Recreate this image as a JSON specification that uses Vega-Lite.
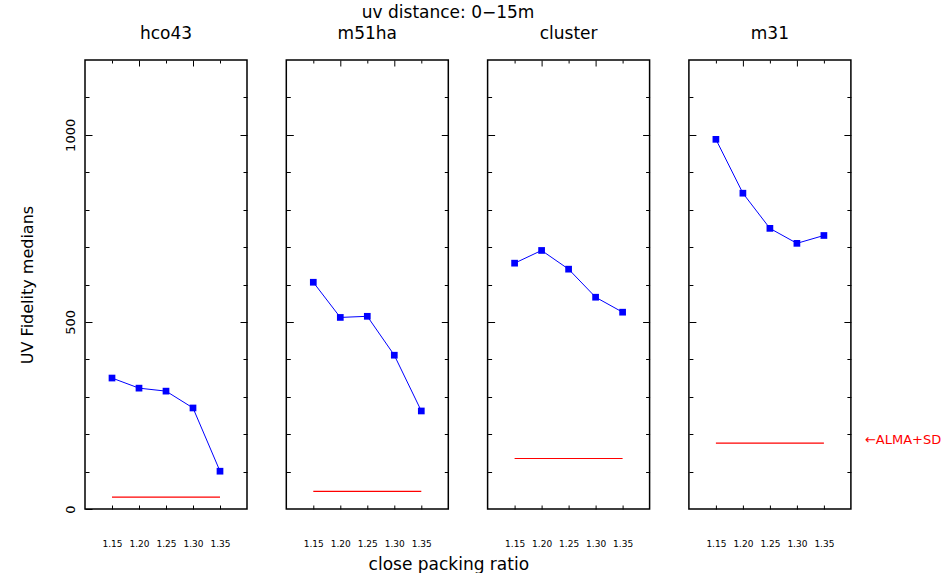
{
  "$schema": "https://vega.github.io/schema/vega-lite/v6.json",
  "padding": {"left": 18, "top": 3, "right": 0, "bottom": 0},
  "title": {"text": "uv distance: 0\u221215m", "fontSize": 17, "fontWeight": "normal", "anchor": "middle", "offset": 2, "dx": -32},
  "datasets": {
    "pts": [
      {"panel": "hco43", "ratio": 1.15, "fidelity": 350, "alma": 32},
      {"panel": "hco43", "ratio": 1.20, "fidelity": 323, "alma": 32},
      {"panel": "hco43", "ratio": 1.25, "fidelity": 315, "alma": 32},
      {"panel": "hco43", "ratio": 1.30, "fidelity": 270, "alma": 32},
      {"panel": "hco43", "ratio": 1.35, "fidelity": 101, "alma": 32},
      {"panel": "m51ha", "ratio": 1.15, "fidelity": 606, "alma": 47},
      {"panel": "m51ha", "ratio": 1.20, "fidelity": 512, "alma": 47},
      {"panel": "m51ha", "ratio": 1.25, "fidelity": 515, "alma": 47},
      {"panel": "m51ha", "ratio": 1.30, "fidelity": 411, "alma": 47},
      {"panel": "m51ha", "ratio": 1.35, "fidelity": 262, "alma": 47},
      {"panel": "cluster", "ratio": 1.15, "fidelity": 657, "alma": 135},
      {"panel": "cluster", "ratio": 1.20, "fidelity": 691, "alma": 135},
      {"panel": "cluster", "ratio": 1.25, "fidelity": 641, "alma": 135},
      {"panel": "cluster", "ratio": 1.30, "fidelity": 566, "alma": 135},
      {"panel": "cluster", "ratio": 1.35, "fidelity": 526, "alma": 135},
      {"panel": "m31", "ratio": 1.15, "fidelity": 988, "alma": 176},
      {"panel": "m31", "ratio": 1.20, "fidelity": 844, "alma": 176},
      {"panel": "m31", "ratio": 1.25, "fidelity": 750, "alma": 176},
      {"panel": "m31", "ratio": 1.30, "fidelity": 710, "alma": 176},
      {"panel": "m31", "ratio": 1.35, "fidelity": 731, "alma": 176}
    ]
  },
  "data": {"name": "pts"},
  "spacing": 39.3,
  "bounds": "flush",
  "hconcat": [
    {
      "width": 162, "height": 449,
      "title": {"text": "hco43", "offset": 17},
      "transform": [{"filter": "datum.panel === 'hco43'"}],
      "layer": [
        {"mark": {"type": "line", "color": "#0000ff", "strokeWidth": 1},
         "encoding": {
           "x": {"field": "ratio", "type": "quantitative", "scale": {"domain": [1.1, 1.4]},
                 "axis": {"orient": "bottom", "values": [1.15, 1.2, 1.25, 1.3, 1.35], "format": ".2f", "tickSize": -4, "labelPadding": 34, "labelFontSize": 9, "title": null}},
           "y": {"field": "fidelity", "type": "quantitative", "scale": {"domain": [0, 1200]},
                 "axis": {"orient": "left", "values": [0, 100, 200, 300, 400, 500, 600, 700, 800, 900, 1000, 1100], "format": "d", "tickSize": {"condition": {"test": "datum.value % 500 === 0", "value": -7}, "value": -4}, "labelExpr": "datum.value % 500 === 0 ? datum.label : ''", "labelAngle": -90, "labelFontSize": 13, "labelPadding": 15, "title": "UV Fidelity medians", "titleFontSize": 16, "titlePadding": 29}}
         }},
        {"mark": {"type": "square", "color": "#0000ff", "opacity": 1, "size": 45},
         "encoding": {
           "x": {"field": "ratio", "type": "quantitative", "axis": {"orient": "top", "values": [1.15, 1.2, 1.25, 1.3, 1.35], "labels": false, "tickSize": {"condition": {"test": "abs(datum.value*10 - round(datum.value*10)) < 0.01", "value": -6}, "value": -3}, "title": null}},
           "y": {"field": "fidelity", "type": "quantitative", "axis": {"orient": "right", "values": [100, 200, 300, 400, 500, 600, 700, 800, 900, 1000, 1100], "labels": false, "tickSize": {"condition": {"test": "datum.value % 500 === 0", "value": -7}, "value": -4}, "title": null}}
         }},
        {"mark": {"type": "line", "color": "#ff0000", "strokeWidth": 1.2},
         "encoding": {"x": {"field": "ratio", "type": "quantitative", "axis": null}, "y": {"field": "alma", "type": "quantitative", "axis": null}}}
      ],
      "resolve": {"axis": {"x": "independent", "y": "independent"}}
    },
    {
      "width": 162, "height": 449,
      "title": {"text": "m51ha", "offset": 17},
      "transform": [{"filter": "datum.panel === 'm51ha'"}],
      "layer": [
        {"mark": {"type": "line", "color": "#0000ff", "strokeWidth": 1},
         "encoding": {
           "x": {"field": "ratio", "type": "quantitative", "scale": {"domain": [1.1, 1.4]},
                 "axis": {"orient": "bottom", "values": [1.15, 1.2, 1.25, 1.3, 1.35], "format": ".2f", "tickSize": -4, "labelPadding": 34, "labelFontSize": 9, "title": "close packing ratio", "titleFontSize": 17, "titleX": 162, "titleY": 55, "titleBaseline": "middle", "titleAlign": "center"}},
           "y": {"field": "fidelity", "type": "quantitative", "scale": {"domain": [0, 1200]},
                 "axis": {"orient": "left", "values": [100, 200, 300, 400, 500, 600, 700, 800, 900, 1000, 1100], "tickSize": {"condition": {"test": "datum.value % 500 === 0", "value": -7}, "value": -4}, "labels": false, "title": null}}
         }},
        {"mark": {"type": "square", "color": "#0000ff", "opacity": 1, "size": 45},
         "encoding": {
           "x": {"field": "ratio", "type": "quantitative", "axis": {"orient": "top", "values": [1.15, 1.2, 1.25, 1.3, 1.35], "labels": false, "tickSize": {"condition": {"test": "abs(datum.value*10 - round(datum.value*10)) < 0.01", "value": -6}, "value": -3}, "title": null}},
           "y": {"field": "fidelity", "type": "quantitative", "axis": {"orient": "right", "values": [100, 200, 300, 400, 500, 600, 700, 800, 900, 1000, 1100], "labels": false, "tickSize": {"condition": {"test": "datum.value % 500 === 0", "value": -7}, "value": -4}, "title": null}}
         }},
        {"mark": {"type": "line", "color": "#ff0000", "strokeWidth": 1.2},
         "encoding": {"x": {"field": "ratio", "type": "quantitative", "axis": null}, "y": {"field": "alma", "type": "quantitative", "axis": null}}}
      ],
      "resolve": {"axis": {"x": "independent", "y": "independent"}}
    },
    {
      "width": 162, "height": 449,
      "title": {"text": "cluster", "offset": 17},
      "transform": [{"filter": "datum.panel === 'cluster'"}],
      "layer": [
        {"mark": {"type": "line", "color": "#0000ff", "strokeWidth": 1},
         "encoding": {
           "x": {"field": "ratio", "type": "quantitative", "scale": {"domain": [1.1, 1.4]},
                 "axis": {"orient": "bottom", "values": [1.15, 1.2, 1.25, 1.3, 1.35], "format": ".2f", "tickSize": -4, "labelPadding": 34, "labelFontSize": 9, "title": null}},
           "y": {"field": "fidelity", "type": "quantitative", "scale": {"domain": [0, 1200]},
                 "axis": {"orient": "left", "values": [100, 200, 300, 400, 500, 600, 700, 800, 900, 1000, 1100], "tickSize": {"condition": {"test": "datum.value % 500 === 0", "value": -7}, "value": -4}, "labels": false, "title": null}}
         }},
        {"mark": {"type": "square", "color": "#0000ff", "opacity": 1, "size": 45},
         "encoding": {
           "x": {"field": "ratio", "type": "quantitative", "axis": {"orient": "top", "values": [1.15, 1.2, 1.25, 1.3, 1.35], "labels": false, "tickSize": {"condition": {"test": "abs(datum.value*10 - round(datum.value*10)) < 0.01", "value": -6}, "value": -3}, "title": null}},
           "y": {"field": "fidelity", "type": "quantitative", "axis": {"orient": "right", "values": [100, 200, 300, 400, 500, 600, 700, 800, 900, 1000, 1100], "labels": false, "tickSize": {"condition": {"test": "datum.value % 500 === 0", "value": -7}, "value": -4}, "title": null}}
         }},
        {"mark": {"type": "line", "color": "#ff0000", "strokeWidth": 1.2},
         "encoding": {"x": {"field": "ratio", "type": "quantitative", "axis": null}, "y": {"field": "alma", "type": "quantitative", "axis": null}}}
      ],
      "resolve": {"axis": {"x": "independent", "y": "independent"}}
    },
    {
      "width": 162, "height": 449,
      "title": {"text": "m31", "offset": 17},
      "transform": [{"filter": "datum.panel === 'm31'"}],
      "layer": [
        {"mark": {"type": "line", "color": "#0000ff", "strokeWidth": 1},
         "encoding": {
           "x": {"field": "ratio", "type": "quantitative", "scale": {"domain": [1.1, 1.4]},
                 "axis": {"orient": "bottom", "values": [1.15, 1.2, 1.25, 1.3, 1.35], "format": ".2f", "tickSize": -4, "labelPadding": 34, "labelFontSize": 9, "title": null}},
           "y": {"field": "fidelity", "type": "quantitative", "scale": {"domain": [0, 1200]},
                 "axis": {"orient": "left", "values": [100, 200, 300, 400, 500, 600, 700, 800, 900, 1000, 1100], "tickSize": {"condition": {"test": "datum.value % 500 === 0", "value": -7}, "value": -4}, "labels": false, "title": null}}
         }},
        {"mark": {"type": "square", "color": "#0000ff", "opacity": 1, "size": 45},
         "encoding": {
           "x": {"field": "ratio", "type": "quantitative", "axis": {"orient": "top", "values": [1.15, 1.2, 1.25, 1.3, 1.35], "labels": false, "tickSize": {"condition": {"test": "abs(datum.value*10 - round(datum.value*10)) < 0.01", "value": -6}, "value": -3}, "title": null}},
           "y": {"field": "fidelity", "type": "quantitative", "axis": {"orient": "right", "values": [100, 200, 300, 400, 500, 600, 700, 800, 900, 1000, 1100], "labels": false, "tickSize": {"condition": {"test": "datum.value % 500 === 0", "value": -7}, "value": -4}, "title": null}}
         }},
        {"mark": {"type": "line", "color": "#ff0000", "strokeWidth": 1.2},
         "encoding": {"x": {"field": "ratio", "type": "quantitative", "axis": null}, "y": {"field": "alma", "type": "quantitative", "axis": null}}},
        {"transform": [{"filter": "datum.ratio === 1.35"}],
         "mark": {"type": "text", "text": "\u2190ALMA+SD", "color": "#ff0000", "fontSize": 13, "align": "left", "baseline": "middle", "dx": 41, "dy": -3},
         "encoding": {"x": {"field": "ratio", "type": "quantitative", "axis": null}, "y": {"field": "alma", "type": "quantitative", "axis": null}}}
      ],
      "resolve": {"axis": {"x": "independent", "y": "independent"}}
    }
  ],
  "config": {
    "font": "DejaVu Sans",
    "view": {"stroke": "#000000", "strokeWidth": 1.5},
    "axis": {"domain": false, "grid": false, "tickColor": "#000000", "tickWidth": 1, "labelColor": "#000000", "titleColor": "#000000", "titleFontWeight": "normal", "labelFont": "DejaVu Sans", "titleFont": "DejaVu Sans"},
    "title": {"fontWeight": "normal", "fontSize": 17, "color": "#000000", "font": "DejaVu Sans"}
  }
}
